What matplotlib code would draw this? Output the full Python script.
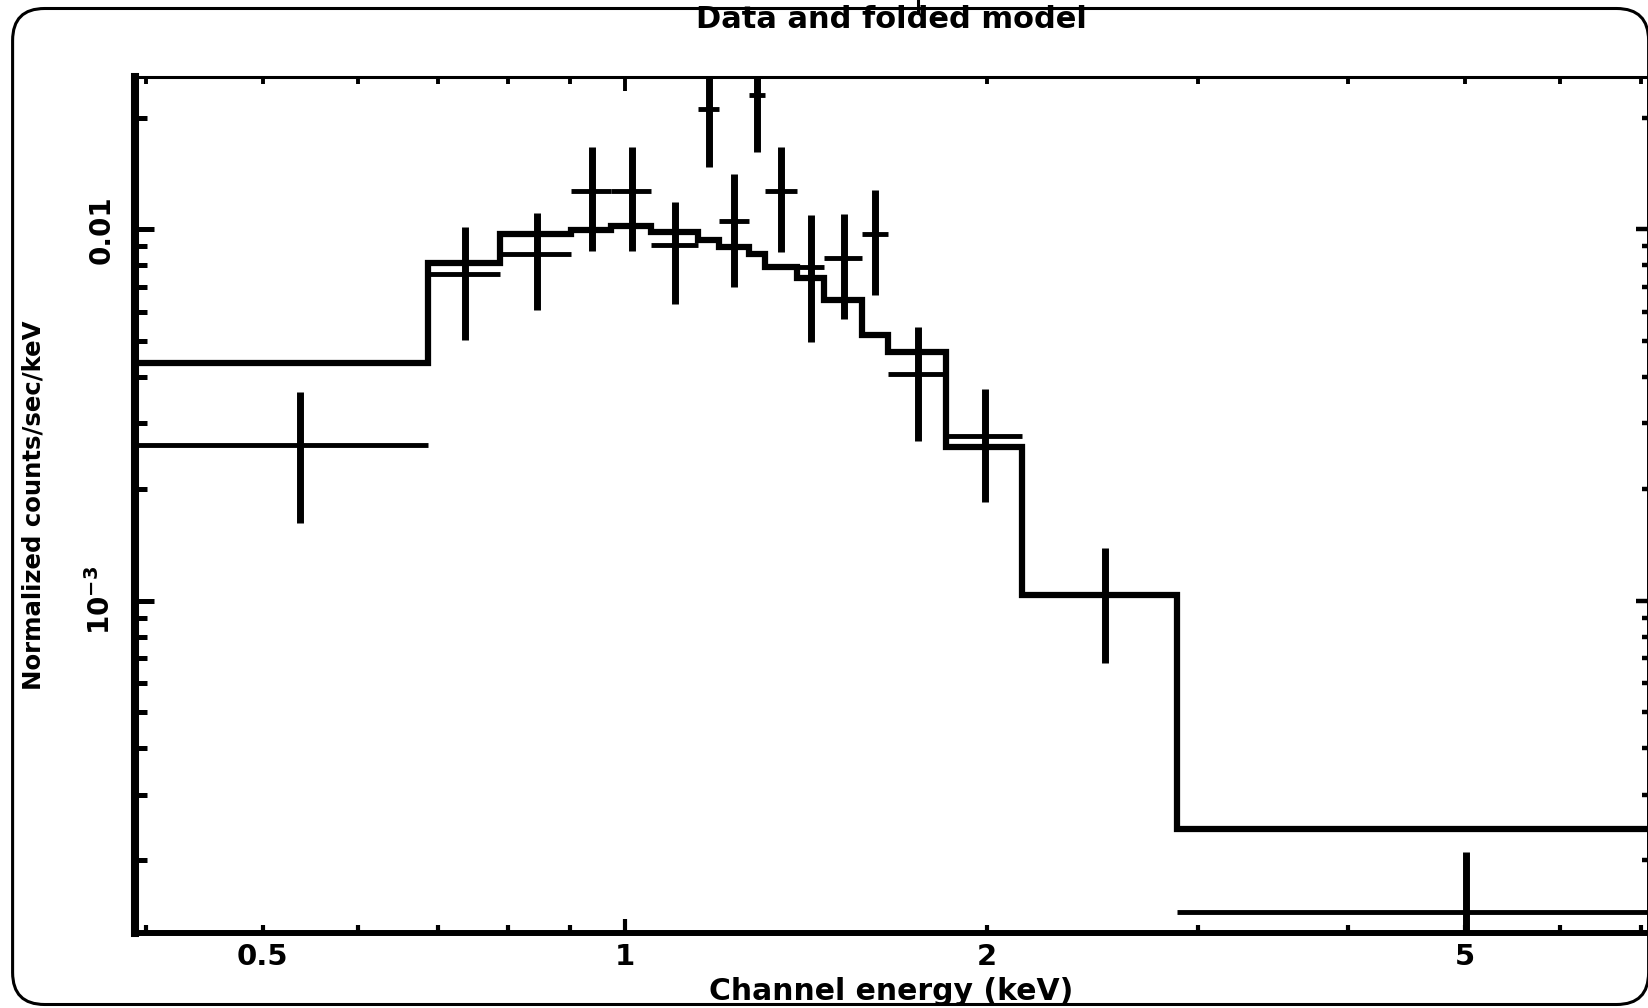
import matplotlib
matplotlib.use("Agg")
import matplotlib.pyplot as plt
import numpy as np
from matplotlib.ticker import FixedLocator, FuncFormatter
from matplotlib.patches import FancyBboxPatch
from matplotlib.lines import Line2D

# ---------------- data ----------------
bin_lo = [0.388, 0.6868, 0.7876, 0.9032, 0.9746, 1.052, 1.1516, 1.198, 1.269,
          1.309, 1.391, 1.466, 1.577, 1.656, 1.850, 2.139, 2.879]
bin_hi = [0.6868, 0.7876, 0.9032, 0.9746, 1.052, 1.1516, 1.198, 1.269, 1.309,
          1.391, 1.466, 1.577, 1.656, 1.850, 2.139, 2.879, 7.14]
counts = [2.625e-3, 7.58e-3, 8.566e-3, 1.270e-2, 1.270e-2, 9.07e-3, 2.109e-2,
          1.0548e-2, 2.300e-2, 1.268e-2, 7.93e-3, 8.35e-3, 9.713e-3, 4.077e-3,
          2.780e-3, 1.035e-3, 1.450e-4]
counts_err = [1.01e-3, 2.56e-3, 2.52e-3, 3.96e-3, 3.96e-3, 2.78e-3, 6.40e-3,
              3.57e-3, 6.82e-3, 3.97e-3, 2.97e-3, 2.63e-3, 3.08e-3, 1.38e-3,
              0.94e-3, 0.354e-3, 0.654e-4]
model = [4.356e-3, 8.10e-3, 9.713e-3, 9.956e-3, 1.0226e-2, 9.85e-3, 9.36e-3,
         8.98e-3, 8.566e-3, 7.90e-3, 7.38e-3, 6.45e-3, 5.19e-3, 4.67e-3,
         2.597e-3, 1.035e-3, 2.425e-4]

x_major_ticks = [1.0]
x_minor_ticks = [0.4, 0.5, 0.6, 0.7, 0.8, 0.9, 2, 3, 4, 5, 6, 7]
x_tick_labels = {0.5: "0.5", 1.0: "1", 2.0: "2", 5.0: "5"}
y_major_ticks = [1e-3, 1e-2]
y_minor_ticks = [m * d for d in (1e-4, 1e-3, 1e-2) for m in range(2, 10)]
y_tick_labels = {1e-2: "0.01", 1e-3: r"$\mathbf{10^{-3}}$"}

title = "Data and folded model"
xlabel = "Channel energy (keV)"
ylabel = "Normalized counts/sec/keV"

# ---------------- style ----------------
plt.rcParams["font.family"] = ["DejaVu Sans"]
plt.rcParams["font.weight"] = "bold"
plt.rcParams["mathtext.default"] = "bf"

W_PX, H_PX = 1649, 1008
fig = plt.figure(figsize=(W_PX / 100, H_PX / 100), dpi=100)
fig.patch.set_facecolor("white")

left_px, right_px, top_px, bottom_px = 135, 1648, 76.5, 933
ax_h_px = bottom_px - top_px
ax = fig.add_axes([left_px / W_PX, 1 - bottom_px / H_PX,
                   (right_px - left_px) / W_PX, ax_h_px / H_PX])
ax.set_xscale("log")
ax.set_yscale("log")
xlim = (0.3915, 7.10)
ylim = (1.273e-4, 0.02579)
ax.set_xlim(*xlim)
ax.set_ylim(*ylim)

lo = np.array(bin_lo)
hi = np.array(bin_hi)
centre = (lo + hi) / 2
half = (hi - lo) / 2
edges = np.append(lo, hi[-1])

ax.stairs(model, edges, baseline=None, color="black", lw=4.5)
ax.errorbar(centre, counts, xerr=half, fmt="none", ecolor="black",
            elinewidth=3.5, capsize=0)
ax.errorbar(centre, counts, yerr=counts_err, fmt="none", ecolor="black",
            elinewidth=5.0, capsize=0)


def lab(table):
    def f(v, pos):
        for k, s in table.items():
            if abs(v - k) / k < 1e-6:
                return s
        return ""
    return FuncFormatter(f)


ax.xaxis.set_major_locator(FixedLocator(x_major_ticks))
ax.xaxis.set_minor_locator(FixedLocator(x_minor_ticks))
ax.xaxis.set_major_formatter(lab(x_tick_labels))
ax.xaxis.set_minor_formatter(lab(x_tick_labels))
ax.yaxis.set_major_locator(FixedLocator(y_major_ticks))
ax.yaxis.set_minor_locator(FixedLocator(y_minor_ticks))
ax.yaxis.set_major_formatter(lab(y_tick_labels))
ax.yaxis.set_minor_formatter(lab(y_tick_labels))

ax.tick_params(axis="x", which="both", direction="in", bottom=True, top=False,
               labelsize=21, pad=7, width=3)
ax.tick_params(axis="x", which="major", length=10)
ax.tick_params(axis="x", which="minor", length=6)
ax.tick_params(axis="y", which="both", direction="in", left=True, right=False,
               labelsize=20, pad=14, width=3.6, labelrotation=90)
ax.tick_params(axis="y", which="major", length=13.5)
ax.tick_params(axis="y", which="minor", length=8.5)
for t in ax.get_yticklabels(which="both"):
    t.set_va("center")

ax.spines["left"].set_linewidth(5.8)
ax.spines["bottom"].set_linewidth(4.3)
ax.spines["top"].set_linewidth(2.2)
ax.spines["right"].set_linewidth(1.2)

# top ticks
axt = ax.twiny()
axt.set_xscale("log")
axt.set_xlim(*xlim)
axt.xaxis.set_major_locator(FixedLocator(x_major_ticks))
axt.xaxis.set_minor_locator(FixedLocator(x_minor_ticks))
axt.tick_params(axis="x", which="both", direction="in", top=True,
                labeltop=False, width=2.8)
axt.tick_params(axis="x", which="major", length=10)
axt.tick_params(axis="x", which="minor", length=5)
for s in axt.spines.values():
    s.set_visible(False)

# right ticks
axr = ax.twinx()
axr.set_yscale("log")
axr.set_ylim(*ylim)
axr.yaxis.set_major_locator(FixedLocator(y_major_ticks))
axr.yaxis.set_minor_locator(FixedLocator(y_minor_ticks))
axr.tick_params(axis="y", which="both", direction="in", right=True,
                labelright=False, width=3.2)
axr.tick_params(axis="y", which="major", length=9)
axr.tick_params(axis="y", which="minor", length=4)
for s in axr.spines.values():
    s.set_visible(False)

ax.set_xlabel(xlabel, fontsize=21.5, fontweight="bold")
ax.xaxis.set_label_coords(0.5, -(977 - bottom_px) / ax_h_px)
ax.set_ylabel(ylabel, fontsize=17.6, fontweight="bold")
ax.yaxis.set_label_coords((46 - left_px) / (right_px - left_px), 0.5)

fig.text((left_px + right_px) / 2 / W_PX, 1 - 20 / H_PX, title,
         ha="center", va="center", fontsize=22, fontweight="bold")

# rounded outer frame
frame = FancyBboxPatch((0.126, 0.035), 16.36, 9.96,
                       boxstyle="round,pad=0,rounding_size=0.32",
                       transform=fig.dpi_scale_trans, fill=False,
                       edgecolor="black", lw=2.2)
fig.add_artist(frame)
fig.add_artist(Line2D([918 / W_PX, 918 / W_PX], [1.0, 1 - 13 / H_PX],
                      transform=fig.transFigure, color="black", lw=2.2))

fig.savefig("out.png", dpi=100, facecolor="white")
